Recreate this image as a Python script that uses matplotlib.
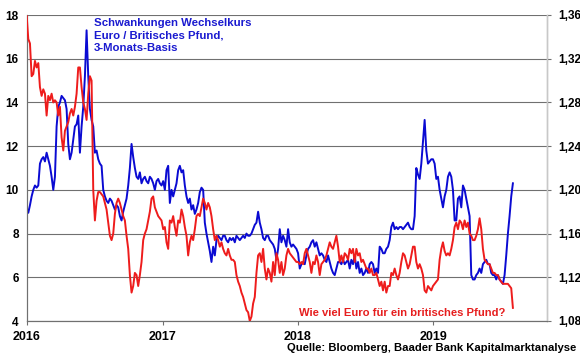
import matplotlib
matplotlib.use("Agg")
import matplotlib.pyplot as plt
import pandas as pd

plt.rcParams['font.family'] = ['Liberation Sans', 'DejaVu Sans']

# --- data ---
start_date = "2015-12-31"
end_date = "2019-08-04"

# 3-month EUR/GBP volatility (left axis)
volatility = [
    9.2, 8.95, 9.3, 9.7, 10.0, 10.2, 10.1, 10.2, 11.2, 11.4,
    11.5, 11.3, 11.7, 11.4, 11.1, 10.6, 10.0, 10.6, 12.9, 13.8,
    14.0, 14.3, 14.2, 14.1, 13.7, 12.1, 11.4, 11.7, 12.3, 12.9,
    13.0, 13.4, 11.7, 12.9, 13.8, 15.2, 17.3, 15.2, 13.7, 13.2,
    12.9, 11.7, 11.8, 11.4, 11.2, 11.1, 10.0, 9.7, 9.5, 9.4,
    9.6, 9.5, 9.3, 9.1, 9.3, 9.2, 8.8, 8.6, 9.0, 9.3,
    9.6, 10.2, 11.0, 12.1, 11.5, 11.0, 10.6, 10.5, 10.8, 10.3,
    10.5, 10.6, 10.4, 10.3, 10.6, 10.5, 10.3, 10.0, 10.4, 10.5,
    10.3, 10.2, 10.4,
    10.0, 10.9, 11.1, 9.4, 10.0, 9.7, 10.0, 10.3, 10.9, 11.1,
    10.8, 10.9, 10.2, 9.7, 9.4, 9.6, 9.1, 9.3, 8.9, 9.1,
    9.4, 9.9, 10.1, 10.0, 8.5, 8.0, 7.6, 7.2, 6.7, 7.4,
    7.0, 7.7, 7.9, 7.8, 7.7, 7.9, 7.9, 7.7, 7.6, 7.8,
    7.7, 7.8, 7.6, 7.9, 7.8, 7.7, 7.8, 7.9, 7.8, 8.0,
    7.9, 7.9, 8.0, 8.2, 8.4, 8.5, 9.0, 8.5, 8.2, 7.8,
    7.7, 7.9, 7.9, 7.7, 7.6, 7.5, 7.3, 6.8, 7.3, 8.2,
    7.6, 7.9, 7.7, 7.4, 8.2, 7.6, 7.4, 7.5, 7.4, 7.3,
    7.1,
    6.4, 6.6, 6.7, 6.6, 7.0, 7.3, 7.4, 7.6, 7.7, 7.4,
    7.6, 7.3, 7.0, 7.1, 7.0, 6.8, 6.7, 7.0, 6.7, 6.4,
    6.2, 6.1, 6.4, 6.7, 6.7, 6.6, 6.8, 6.6, 6.7, 6.8,
    6.4, 6.8, 6.6, 7.0, 6.4, 6.7, 6.2, 6.4, 6.1, 6.2,
    6.4, 6.2, 6.6, 6.7, 6.6, 6.2, 6.4, 6.2, 7.4, 7.3,
    7.1, 7.1, 7.3, 7.4, 7.7, 8.3, 8.5, 8.2, 8.3, 8.2,
    8.3, 8.3, 8.2, 8.3, 8.4, 8.5, 8.3, 8.2, 8.2, 8.8,
    11.0, 10.7, 10.5, 11.2, 12.2, 13.2, 11.8, 11.2, 11.3, 11.4,
    11.4,
    11.2, 10.5, 10.6, 10.0, 9.6, 9.2, 9.7, 10.0, 10.6, 10.8,
    10.6, 10.0, 8.6, 8.6, 9.6, 9.7, 9.2, 10.2, 10.0, 9.6,
    9.2, 8.8, 6.1, 5.9, 5.9, 6.1, 6.2, 6.4, 6.2, 6.6,
    6.7, 6.8, 6.6, 6.6, 6.2, 6.1, 6.1, 5.9, 6.1, 5.9,
    5.8, 5.7, 6.1, 7.0, 8.0, 8.8, 9.7, 10.3,
]

# Euro per British pound (right axis)
gbp_eur = [
    1.360, 1.338, 1.334, 1.304, 1.306, 1.318, 1.312, 1.316, 1.294, 1.286,
    1.292, 1.288, 1.268, 1.286, 1.282, 1.288, 1.280, 1.282, 1.280, 1.268,
    1.276, 1.248, 1.236, 1.254, 1.258, 1.262, 1.270, 1.274, 1.268, 1.276,
    1.288, 1.312, 1.312, 1.294, 1.280, 1.274, 1.264, 1.288, 1.304, 1.300,
    1.200, 1.172, 1.190, 1.198, 1.198, 1.196, 1.194, 1.188, 1.182, 1.170,
    1.158, 1.154, 1.160, 1.178, 1.188, 1.192, 1.188, 1.182, 1.176, 1.172,
    1.158, 1.146, 1.122, 1.106, 1.112, 1.124, 1.122, 1.112, 1.122, 1.134,
    1.154, 1.160, 1.164, 1.172, 1.180, 1.192, 1.194, 1.184, 1.180, 1.176,
    1.174, 1.172, 1.164,
    1.166, 1.152, 1.146, 1.172, 1.170, 1.176, 1.166, 1.158, 1.172, 1.170,
    1.182, 1.176, 1.166, 1.158, 1.140, 1.152, 1.158, 1.154, 1.164, 1.176,
    1.178, 1.176, 1.184, 1.192, 1.188, 1.182, 1.188, 1.184, 1.176, 1.164,
    1.154, 1.158, 1.154, 1.148, 1.152, 1.146, 1.142, 1.140, 1.146, 1.140,
    1.136, 1.136, 1.134, 1.122, 1.116, 1.112, 1.106, 1.102, 1.096, 1.090,
    1.088, 1.080, 1.084, 1.096, 1.102, 1.124, 1.140, 1.142, 1.134, 1.146,
    1.128, 1.118, 1.128, 1.124, 1.116, 1.134, 1.122, 1.142, 1.136, 1.124,
    1.134, 1.122, 1.128, 1.140, 1.146, 1.142, 1.140, 1.138, 1.136, 1.134,
    1.134,
    1.132, 1.134, 1.132, 1.142, 1.146, 1.140, 1.134, 1.124, 1.134, 1.132,
    1.140, 1.134, 1.122, 1.132, 1.134, 1.136, 1.140, 1.146, 1.152, 1.148,
    1.146, 1.152, 1.158, 1.148, 1.134, 1.140, 1.134, 1.142, 1.140, 1.136,
    1.146, 1.142, 1.146, 1.134, 1.146, 1.140, 1.142, 1.134, 1.136, 1.132,
    1.128, 1.128, 1.124, 1.128, 1.122, 1.122, 1.124, 1.118, 1.112, 1.116,
    1.108, 1.116, 1.106, 1.112, 1.112, 1.124, 1.122, 1.128, 1.122, 1.118,
    1.124, 1.134, 1.142, 1.140, 1.134, 1.128, 1.132, 1.140, 1.148, 1.148,
    1.134, 1.128, 1.132, 1.128, 1.122, 1.108, 1.106, 1.112, 1.110, 1.108,
    1.112,
    1.114, 1.116, 1.118, 1.136, 1.146, 1.152, 1.144, 1.140, 1.142, 1.140,
    1.146, 1.154, 1.166, 1.170, 1.164, 1.172, 1.170, 1.164, 1.172, 1.166,
    1.170, 1.160, 1.158, 1.154, 1.154, 1.158, 1.164, 1.174, 1.164, 1.146,
    1.136, 1.134, 1.132, 1.132, 1.128, 1.124, 1.124, 1.122, 1.122, 1.118,
    1.116, 1.114, 1.114, 1.114, 1.114, 1.112, 1.110, 1.092,
]

left_ticks = [4, 6, 8, 10, 12, 14, 16, 18]
right_ticks = [1.08, 1.12, 1.16, 1.20, 1.24, 1.28, 1.32, 1.36]
year_ticks = ["2016-01-01", "2017-01-01", "2018-01-01", "2019-01-01"]
year_labels = ["2016", "2017", "2018", "2019"]

title_text = "Schwankungen Wechselkurs\nEuro / Britisches Pfund,\n3-Monats-Basis"
red_text = "Wie viel Euro für ein britisches Pfund?"
source_text = "Quelle: Bloomberg, Baader Bank Kapitalmarktanalyse"

dates = pd.date_range(start_date, end_date, periods=len(volatility))

W, H = 580, 359
fig = plt.figure(figsize=(W / 100, H / 100), dpi=100)
fig.patch.set_facecolor("white")
ax = fig.add_axes([27 / W, 1 - 321 / H, (547 - 27) / W, (321 - 15) / H])
ax2 = ax.twinx()

grid_c = "#707070"
for v in left_ticks:
    ax.axhline(v, color=grid_c, lw=0.8, zorder=0)

ax.plot(dates, volatility, color="#0a0ad2", lw=1.4, zorder=3)
ax2.plot(dates, gbp_eur, color="#ee1c1c", lw=1.4, zorder=3)

ax.set_ylim(4, 18)
ax2.set_ylim(1.08, 1.36)
ax.set_xlim(pd.Timestamp("2016-01-01"), pd.Timestamp("2019-11-04"))

ax.set_yticks(left_ticks)
ax.set_yticklabels([str(v) for v in left_ticks], fontsize=8.5, fontweight="bold")
ax2.set_yticks(right_ticks)
ax2.set_yticklabels([f"{v:.2f}".replace(".", ",") for v in right_ticks],
                    fontsize=8.5, fontweight="bold")
ax.set_xticks([pd.Timestamp(d) for d in year_ticks])
ax.set_xticklabels(year_labels, fontsize=9, fontweight="bold")

ax.tick_params(axis="y", length=0, pad=6)
ax.tick_params(axis="x", length=3, color=grid_c, pad=4.5, direction="out")
ax2.tick_params(axis="y", length=3, color=grid_c, pad=5, direction="out")

for a in (ax, ax2):
    a.spines["top"].set_visible(False)
    a.spines["left"].set_color(grid_c)
    a.spines["bottom"].set_color(grid_c)
    a.spines["right"].set_color("#c8c8c8")
    a.spines["left"].set_linewidth(0.8)
    a.spines["bottom"].set_linewidth(0.8)
    a.spines["right"].set_linewidth(1.0)

fig.text(94 / W, 1 - 18.5 / H, title_text, color="#1a1ad0", fontsize=8.2,
         fontweight="bold", ha="left", va="top", linespacing=1.3)
fig.text(299 / W, 1 - 313 / H, red_text, color="#e61e1e", fontsize=8.1,
         fontweight="bold", ha="left", va="center")
fig.text(287 / W, 1 - 348 / H, source_text, color="black", fontsize=8.1,
         fontweight="bold", ha="left", va="center")

fig.savefig("out.png", dpi=100, facecolor="white")
